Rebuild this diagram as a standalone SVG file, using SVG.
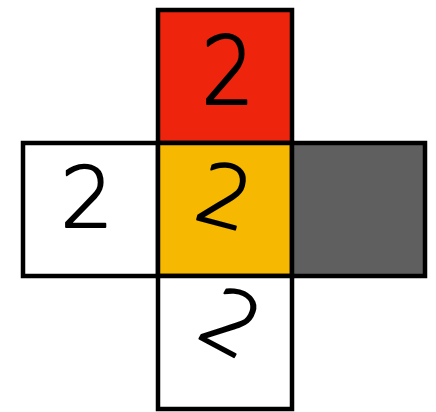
<svg xmlns="http://www.w3.org/2000/svg" width="436" height="412" viewBox="0 0 436 412">
<style>
.cell{stroke:#000;stroke-width:4.5}
.d{font-family:"DejaVu Sans","Liberation Sans",sans-serif;font-weight:200;font-size:84px;fill:#000;stroke:#000;stroke-width:2;stroke-linejoin:round;text-anchor:middle}
</style>
<rect x="0" y="0" width="436" height="412" fill="#fff"/>
<g id="top">
<rect class="cell" x="158" y="10" width="134" height="133" fill="#ee240c"/>
<text class="d" transform="translate(228,70) scale(1,1.12)" x="0" y="30">2</text>
</g>
<g id="left">
<rect class="cell" x="23" y="143" width="135" height="133" fill="#fff"/>
<text class="d" transform="translate(87,197)" x="0" y="30">2</text>
</g>
<g id="center">
<rect class="cell" x="158" y="143" width="134" height="133" fill="#f6b800"/>
<text class="d" transform="translate(225,196) rotate(15)" x="0" y="30">2</text>
</g>
<g id="right">
<rect class="cell" x="292" y="143" width="133" height="133" fill="#5f5f5f"/>
</g>
<g id="bottom">
<rect class="cell" x="158" y="276" width="134" height="133" fill="#fff"/>
<text class="d" transform="translate(232,322) rotate(28)" x="0" y="30">2</text>
</g>
<g id="connectors"/>
</svg>
